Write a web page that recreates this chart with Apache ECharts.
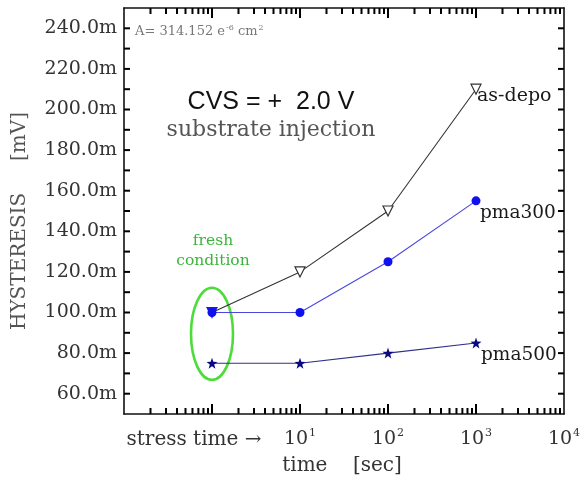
<!DOCTYPE html>
<html>
<head>
<meta charset="utf-8">
<script src="https://cdn.jsdelivr.net/npm/echarts@6/dist/echarts.min.js"></script>
<style>
  html, body { margin: 0; padding: 0; background: #fff; }
  #chart { width: 585px; height: 481px; }
</style>
</head>
<body>
<div id="chart"></div>
<script>
// Stress times in seconds (1 s = fresh condition)
const stressTimes = [1, 10, 100, 1000];
// Hysteresis in mV for each sample
const asDepo = [100, 120, 150, 210];
const pma300 = [100, 100, 125, 155];
const pma500 = [75, 75, 80, 85];
// Labelled decades on the time axis
const xTickExponents = [1, 2, 3, 4];
// Y tick labels (mV), every 20
const yTickLabels = [60, 80, 100, 120, 140, 160, 180, 200, 220, 240];
// Y tick marks (mV), every 10
const yTickMarks = [60, 70, 80, 90, 100, 110, 120, 130, 140, 150, 160, 170, 180, 190, 200, 210, 220, 230, 240];
// Log-axis decades and minor tick multipliers
const decades = [0.1, 1, 10, 100, 1000];
const majorDecades = [1, 10, 100, 1000];
const minorMult = [2, 3, 4, 5, 6, 7, 8, 9];
// Fresh-condition marker centre (time, mV)
const freshCenter = [1, 89.5];

const SERIF = '"DejaVu Serif", "Liberation Serif", serif';
const SANS = '"Liberation Sans", Arial, sans-serif';
const Y_MIN = 50, Y_MAX = 250;
const T_MIN = 0.1, T_MAX = 10000;

const xMinorTicks = [];
decades.forEach(d => minorMult.forEach(m => xMinorTicks.push([d * m, Y_MIN])));
const xMajorTicks = majorDecades.map(d => [d, Y_MIN]);
const yTicks = yTickMarks.map(v => [T_MIN, v]);

const starPath = 'path://M0,-10 L2.35,-3.24 9.51,-3.09 3.8,1.24 5.88,8.09 0,4 -5.88,8.09 -3.8,1.24 -9.51,-3.09 -2.35,-3.24Z';

function pairs(vals) { return stressTimes.map((t, i) => [t, vals[i]]); }

function tickStyle() { return { stroke: '#000', lineWidth: 2 }; }

// vertical tick pair (bottom + top edge) at a time value
function xTickSeries(data, len) {
  return {
    type: 'custom', silent: true, clip: false, z: 5, data: data,
    renderItem: function (params, api) {
      const b = api.coord([api.value(0), Y_MIN]);
      const t = api.coord([api.value(0), Y_MAX]);
      return {
        type: 'group',
        children: [
          { type: 'line', shape: { x1: b[0], y1: b[1], x2: b[0], y2: b[1] - len }, style: tickStyle() },
          { type: 'line', shape: { x1: t[0], y1: t[1], x2: t[0], y2: t[1] + len }, style: tickStyle() }
        ]
      };
    }
  };
}

const chart = echarts.init(document.getElementById('chart'), null, { renderer: 'canvas' });

const xAxisBase = {
  type: 'log', logBase: 10, min: T_MIN, max: T_MAX,
  splitLine: { show: false },
  axisLine: { show: true, lineStyle: { color: '#111', width: 1.6 } },
  axisTick: { show: false }
};
const yAxisBase = {
  type: 'value', min: Y_MIN, max: Y_MAX, interval: 10,
  splitLine: { show: false },
  axisLine: { show: true, lineStyle: { color: '#111', width: 1.6 } },
  axisTick: { show: false }
};

const option = {
  animation: false,
  backgroundColor: '#fff',
  grid: { left: 124, top: 8, right: 21, bottom: 67 },
  xAxis: [
    Object.assign({}, xAxisBase, {
      position: 'bottom',
      axisLabel: {
        margin: 14,
        formatter: function (v) {
          const e = Math.round(Math.log10(v));
          if (xTickExponents.indexOf(e) < 0) return '';
          return '{b|10}{s|' + e + '}';
        },
        rich: {
          b: { fontFamily: SERIF, fontSize: 19, color: '#333', lineHeight: 22 },
          s: { fontFamily: SERIF, fontSize: 11, color: '#333', verticalAlign: 'top', padding: [0, 0, 10, 1] }
        }
      }
    }),
    Object.assign({}, xAxisBase, { position: 'top', axisLabel: { show: false } })
  ],
  yAxis: [
    Object.assign({}, yAxisBase, {
      position: 'left',
      axisLabel: {
        margin: 7,
        fontFamily: SERIF, fontSize: 19, color: '#333',
        formatter: function (v) {
          return yTickLabels.indexOf(v) >= 0 ? v.toFixed(1) + 'm' : '';
        }
      }
    }),
    Object.assign({}, yAxisBase, { position: 'right', axisLabel: { show: false } })
  ],
  series: [
    xTickSeries(xMinorTicks, 6),
    xTickSeries(xMajorTicks, 10),
    {
      // horizontal tick pair (left + right edge) at a mV value
      type: 'custom', silent: true, clip: false, z: 5, data: yTicks,
      renderItem: function (params, api) {
        const l = api.coord([T_MIN, api.value(1)]);
        const r = api.coord([T_MAX, api.value(1)]);
        return {
          type: 'group',
          children: [
            { type: 'line', shape: { x1: l[0], y1: l[1], x2: l[0] + 6, y2: l[1] }, style: tickStyle() },
            { type: 'line', shape: { x1: r[0], y1: r[1], x2: r[0] - 6, y2: r[1] }, style: tickStyle() }
          ]
        };
      }
    },
    {
      // fresh condition outline
      type: 'custom', silent: true, clip: false, z: 2,
      data: [freshCenter],
      renderItem: function (params, api) {
        const c = api.coord([api.value(0), api.value(1)]);
        return {
          type: 'ellipse',
          shape: { cx: c[0], cy: c[1], rx: 21, ry: 46 },
          style: { fill: null, stroke: '#4ddc3a', lineWidth: 2.6 }
        };
      }
    },
    {
      name: 'as-depo',
      type: 'line',
      data: pairs(asDepo).map((p, i) => i === 0
        ? { value: p, itemStyle: { color: '#1a1aee', borderColor: '#1a1aee' } }
        : p),
      symbol: 'triangle',
      symbolRotate: 180,
      symbolSize: 10,
      lineStyle: { color: '#333', width: 1.1 },
      itemStyle: { color: '#fff', borderColor: '#333', borderWidth: 1.2 },
      endLabel: {
        show: true, formatter: 'as-depo', distance: 1, offset: [0, 7],
        fontFamily: SERIF, fontSize: 19, color: '#1a1a1a'
      },
      z: 3
    },
    {
      name: 'pma300',
      type: 'line',
      data: pairs(pma300),
      symbol: 'circle',
      symbolSize: 9,
      lineStyle: { color: '#4848e0', width: 1.1 },
      itemStyle: { color: '#1010ee', borderWidth: 0 },
      endLabel: {
        show: true, formatter: 'pma300', distance: 4, offset: [0, 12],
        fontFamily: SERIF, fontSize: 18.5, color: '#1a1a1a'
      },
      z: 4
    },
    {
      name: 'pma500',
      type: 'line',
      data: pairs(pma500),
      symbol: starPath,
      symbolSize: 11,
      lineStyle: { color: '#30308a', width: 1.1 },
      itemStyle: { color: '#0a0a80', borderWidth: 0 },
      endLabel: {
        show: true, formatter: 'pma500', distance: 5, offset: [0, 12],
        fontFamily: SERIF, fontSize: 18.5, color: '#1a1a1a'
      },
      z: 4
    }
  ],
  graphic: [
    {
      type: 'text', left: 135, top: 24,
      style: {
        text: '{t|A= 314.152 e}{s|-6}{t| cm}{s|2}',
        rich: {
          t: { fontFamily: SERIF, fontSize: 13, fill: '#777', lineHeight: 16 },
          s: { fontFamily: SERIF, fontSize: 8, fill: '#777', verticalAlign: 'top', padding: [0, 0, 6, 1] }
        }
      }
    },
    {
      type: 'text', x: 271, y: 102,
      style: {
        text: 'CVS = +  2.0 V', fontFamily: SANS, fontSize: 25, fill: '#111',
        textAlign: 'center', textVerticalAlign: 'middle'
      }
    },
    {
      type: 'text', x: 271, y: 130,
      style: {
        text: 'substrate injection', fontFamily: SERIF, fontSize: 22, fill: '#555',
        textAlign: 'center', textVerticalAlign: 'middle'
      }
    },
    {
      type: 'text', x: 213, y: 241,
      style: {
        text: 'fresh', fontFamily: SERIF, fontSize: 15.5, fill: '#3cb43c',
        textAlign: 'center', textVerticalAlign: 'middle'
      }
    },
    {
      type: 'text', x: 213, y: 261,
      style: {
        text: 'condition', fontFamily: SERIF, fontSize: 15.5, fill: '#3cb43c',
        textAlign: 'center', textVerticalAlign: 'middle'
      }
    },
    {
      type: 'text', x: 194, y: 440,
      style: {
        text: 'stress time \u2192', fontFamily: SERIF, fontSize: 20, fill: '#333',
        textAlign: 'center', textVerticalAlign: 'middle'
      }
    },
    {
      type: 'text', x: 342, y: 466,
      style: {
        text: 'time    [sec]', fontFamily: SERIF, fontSize: 20, fill: '#333',
        textAlign: 'center', textVerticalAlign: 'middle'
      }
    },
    {
      type: 'text', x: 20, y: 221, rotation: Math.PI / 2,
      style: {
        text: 'HYSTERESIS     [mV]', fontFamily: SERIF, fontSize: 20, fill: '#555',
        textAlign: 'center', textVerticalAlign: 'middle'
      }
    }
  ]
};

chart.setOption(option);
</script>
</body>
</html>
